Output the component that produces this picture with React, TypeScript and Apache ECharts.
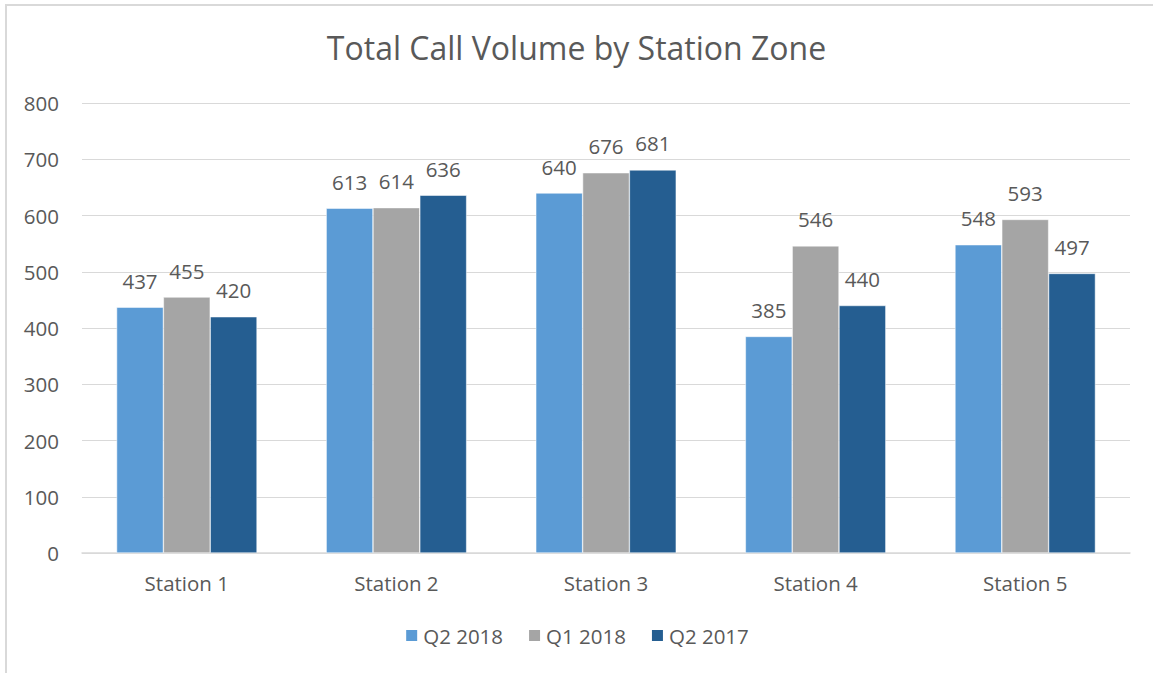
import React, { useEffect, useRef } from "react";
import * as echarts from "echarts";

const categories = ["Station 1", "Station 2", "Station 3", "Station 4", "Station 5"];
const seriesNames = ["Q2 2018", "Q1 2018", "Q2 2017"];
const q2_2018 = [437, 613, 640, 385, 548];
const q1_2018 = [455, 614, 676, 546, 593];
const q2_2017 = [420, 636, 681, 440, 497];
const colors = ["#5B9BD5", "#A5A5A5", "#255E91"];
const yTicks = { min: 0, max: 800, interval: 100 };

const FONT = "'Open Sans', 'Noto Sans', sans-serif";
const TXT = "#595959";

export default function App() {
  const ref = useRef<HTMLDivElement>(null);
  useEffect(() => {
    if (!ref.current) return;
    const chart = echarts.init(ref.current, null, { renderer: "svg" });
    const data = [q2_2018, q1_2018, q2_2017];
    chart.setOption({
      animation: false,
      textStyle: { fontFamily: FONT, color: TXT },
      title: {
        text: "Total Call Volume by Station Zone",
        left: "center",
        top: 26,
        textStyle: { fontFamily: FONT, fontSize: 32, fontWeight: "normal", color: TXT },
      },
      legend: {
        bottom: 22,
        left: "center",
        itemWidth: 13,
        itemHeight: 13,
        itemGap: 24,
        icon: "rect",
        textStyle: { fontFamily: FONT, fontSize: 20.5, color: TXT },
        data: seriesNames,
      },
      grid: { left: 82, right: 23, top: 103, bottom: 120 },
      xAxis: {
        type: "category",
        data: categories,
        axisLine: { lineStyle: { color: "#D9D9D9", width: 1.5 } },
        axisTick: { show: false },
        axisLabel: { fontFamily: FONT, fontSize: 20.5, color: TXT, margin: 19 },
      },
      yAxis: {
        type: "value",
        min: yTicks.min,
        max: yTicks.max,
        interval: yTicks.interval,
        axisLine: { show: false },
        axisTick: { show: false },
        splitLine: { lineStyle: { color: "#D9D9D9", width: 1 } },
        axisLabel: { fontFamily: FONT, fontSize: 20.5, color: TXT, margin: 23 },
      },
      series: seriesNames.map((name, i) => ({
        name,
        type: "bar",
        data: data[i],
        barGap: "0%",
        barCategoryGap: "33%",
        itemStyle: { color: colors[i], borderColor: "#fff", borderWidth: 0.5 },
        label: {
          show: true,
          position: "top",
          distance: 16,
          fontFamily: FONT,
          fontSize: 20.5,
          color: TXT,
        },
      })),
    });
    return () => chart.dispose();
  }, []);
  return (
    <div style={{ position: "absolute", left: 0, top: 0, width: 1153, height: 673, background: "#fff" }}>
      <div
        style={{
          position: "absolute",
          left: 5,
          top: 4,
          width: 1148,
          height: 669,
          borderLeft: "2px solid #D9D9D9",
          borderTop: "2px solid #D9D9D9",
          boxSizing: "border-box",
        }}
      />
      <div ref={ref} style={{ position: "absolute", left: 0, top: 0, width: 1153, height: 673 }} />
    </div>
  );
}
